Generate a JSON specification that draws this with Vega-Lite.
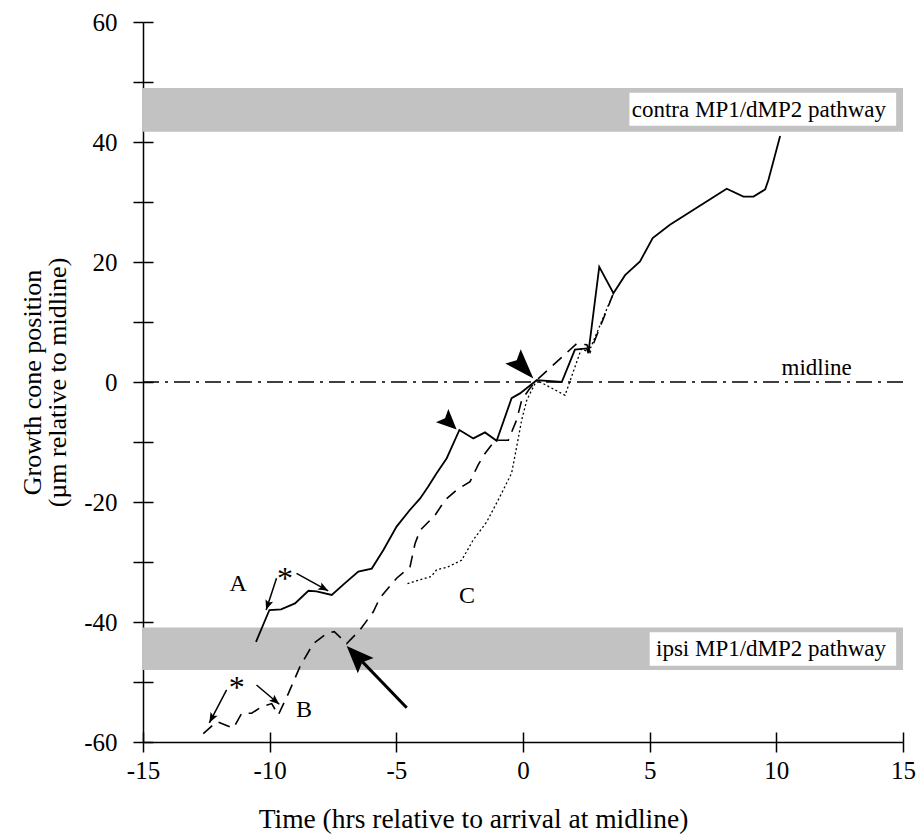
{
  "$schema": "https://vega.github.io/schema/vega-lite/v6.json",
  "width": 760,
  "height": 720,
  "autosize": {"type": "none"},
  "padding": {"left": 143, "top": 22, "right": 14, "bottom": 93},
  "background": "white",
  "config": {
    "view": {"stroke": null},
    "font": "Liberation Serif",
    "axis": {"labelFont": "Liberation Serif", "titleFont": "Liberation Serif", "labelColor": "black", "titleColor": "black", "domainColor": "black", "tickColor": "black", "titleFontWeight": "normal", "grid": false}
  },
  "datasets": {
    "bands": [
      {"name": "contra", "x1": -15, "x2": 15, "y1": 41.7, "y2": 49},
      {"name": "ipsi", "x1": -15, "x2": 15, "y1": -48, "y2": -40.9}
    ],
    "boxes": [
      {"name": "contra", "x1": 4.2, "x2": 14.73, "y1": 42.7, "y2": 48.2},
      {"name": "ipsi", "x1": 5.0, "x2": 14.73, "y1": -47.3, "y2": -41.7}
    ],
    "traces": [
      {"s": "A", "o": 1, "t": -10.54, "p": -43.3},
      {"s": "A", "o": 2, "t": -10.01, "p": -38},
      {"s": "A", "o": 3, "t": -9.55, "p": -37.9},
      {"s": "A", "o": 4, "t": -9.0, "p": -36.9},
      {"s": "A", "o": 5, "t": -8.47, "p": -34.8},
      {"s": "A", "o": 6, "t": -8.15, "p": -34.9},
      {"s": "A", "o": 7, "t": -7.55, "p": -35.5},
      {"s": "A", "o": 8, "t": -7.05, "p": -33.6},
      {"s": "A", "o": 9, "t": -6.5, "p": -31.6},
      {"s": "A", "o": 10, "t": -5.97, "p": -31.1},
      {"s": "A", "o": 11, "t": -5.51, "p": -28},
      {"s": "A", "o": 12, "t": -4.99, "p": -24.1},
      {"s": "A", "o": 13, "t": -4.46, "p": -21.3},
      {"s": "A", "o": 14, "t": -4.06, "p": -19.4},
      {"s": "A", "o": 15, "t": -3.74, "p": -17.4},
      {"s": "A", "o": 16, "t": -3.41, "p": -15.2},
      {"s": "A", "o": 17, "t": -3.01, "p": -12.7},
      {"s": "A", "o": 18, "t": -2.51, "p": -8},
      {"s": "A", "o": 19, "t": -1.96, "p": -9.4},
      {"s": "A", "o": 20, "t": -1.5, "p": -8.4},
      {"s": "A", "o": 21, "t": -1.04, "p": -9.8},
      {"s": "A", "o": 22, "t": -0.45, "p": -2.7},
      {"s": "A", "o": 23, "t": -0.12, "p": -1.9},
      {"s": "A", "o": 24, "t": 0.54, "p": 0.3},
      {"s": "A", "o": 25, "t": 1.53, "p": 0},
      {"s": "A", "o": 26, "t": 2.05, "p": 5.4},
      {"s": "A", "o": 27, "t": 2.52, "p": 5.6},
      {"s": "A", "o": 28, "t": 2.58, "p": 4.8},
      {"s": "A", "o": 29, "t": 3.01, "p": 19.2},
      {"s": "A", "o": 30, "t": 3.57, "p": 14.8},
      {"s": "A", "o": 31, "t": 4.03, "p": 17.8},
      {"s": "A", "o": 32, "t": 4.62, "p": 20.1},
      {"s": "A", "o": 33, "t": 5.12, "p": 24},
      {"s": "A", "o": 34, "t": 5.8, "p": 26.2},
      {"s": "A", "o": 35, "t": 8.04, "p": 32.2},
      {"s": "A", "o": 36, "t": 8.7, "p": 30.9},
      {"s": "A", "o": 37, "t": 9.1, "p": 30.9},
      {"s": "A", "o": 38, "t": 9.56, "p": 32.1},
      {"s": "A", "o": 39, "t": 9.69, "p": 33.7},
      {"s": "A", "o": 40, "t": 10.15, "p": 41},
      {"s": "B", "o": 1, "t": -12.62, "p": -58.6},
      {"s": "B", "o": 2, "t": -12.09, "p": -56.6},
      {"s": "B", "o": 3, "t": -11.43, "p": -57.7},
      {"s": "B", "o": 4, "t": -11.1, "p": -55.2},
      {"s": "B", "o": 5, "t": -10.71, "p": -55.2},
      {"s": "B", "o": 6, "t": -10.31, "p": -54.1},
      {"s": "B", "o": 7, "t": -9.92, "p": -53.6},
      {"s": "B", "o": 8, "t": -9.66, "p": -55.5},
      {"s": "B", "o": 9, "t": -9.26, "p": -51.9},
      {"s": "B", "o": 10, "t": -8.8, "p": -47.4},
      {"s": "B", "o": 11, "t": -8.28, "p": -43.6},
      {"s": "B", "o": 12, "t": -7.75, "p": -41.9},
      {"s": "B", "o": 13, "t": -7.45, "p": -41.6},
      {"s": "B", "o": 14, "t": -6.96, "p": -43.6},
      {"s": "B", "o": 15, "t": -6.43, "p": -41.3},
      {"s": "B", "o": 16, "t": -5.91, "p": -38.3},
      {"s": "B", "o": 17, "t": -5.65, "p": -36},
      {"s": "B", "o": 18, "t": -4.99, "p": -32.7},
      {"s": "B", "o": 19, "t": -4.46, "p": -30.8},
      {"s": "B", "o": 20, "t": -4.26, "p": -26.9},
      {"s": "B", "o": 21, "t": -4.06, "p": -24.7},
      {"s": "B", "o": 22, "t": -3.47, "p": -22.2},
      {"s": "B", "o": 23, "t": -3.08, "p": -19.7},
      {"s": "B", "o": 24, "t": -2.62, "p": -18},
      {"s": "B", "o": 25, "t": -2.09, "p": -16.6},
      {"s": "B", "o": 26, "t": -1.77, "p": -13.8},
      {"s": "B", "o": 27, "t": -1.5, "p": -11.9},
      {"s": "B", "o": 28, "t": -1.1, "p": -9.7},
      {"s": "B", "o": 29, "t": -0.58, "p": -9.7},
      {"s": "B", "o": 30, "t": -0.25, "p": -6.3},
      {"s": "B", "o": 31, "t": -0.05, "p": -3},
      {"s": "B", "o": 32, "t": 0.28, "p": -1},
      {"s": "B", "o": 33, "t": 0.54, "p": 0.3},
      {"s": "B", "o": 34, "t": 2.12, "p": 6.4},
      {"s": "B", "o": 35, "t": 2.52, "p": 6.2},
      {"s": "B", "o": 36, "t": 2.65, "p": 5.0},
      {"s": "B", "o": 37, "t": 3.57, "p": 14.8},
      {"s": "C", "o": 1, "t": -4.56, "p": -33.6},
      {"s": "C", "o": 2, "t": -3.62, "p": -32.4},
      {"s": "C", "o": 3, "t": -3.41, "p": -31.3},
      {"s": "C", "o": 4, "t": -3.01, "p": -30.9},
      {"s": "C", "o": 5, "t": -2.42, "p": -29.7},
      {"s": "C", "o": 6, "t": -1.96, "p": -26.3},
      {"s": "C", "o": 7, "t": -1.43, "p": -23.3},
      {"s": "C", "o": 8, "t": -0.91, "p": -19.1},
      {"s": "C", "o": 9, "t": -0.45, "p": -15.2},
      {"s": "C", "o": 10, "t": -0.25, "p": -10.8},
      {"s": "C", "o": 11, "t": -0.05, "p": -6.3},
      {"s": "C", "o": 12, "t": 0.15, "p": -3},
      {"s": "C", "o": 13, "t": 0.48, "p": -0.2},
      {"s": "C", "o": 14, "t": 0.54, "p": 0.3},
      {"s": "C", "o": 15, "t": 1.66, "p": -2.2},
      {"s": "C", "o": 16, "t": 2.3, "p": 5.5},
      {"s": "C", "o": 17, "t": 2.6, "p": 5.0},
      {"s": "C", "o": 18, "t": 3.57, "p": 14.8}
    ],
    "arrows": [
      {"id": "a1", "o": 1, "t": -9.73, "p": -32.7},
      {"id": "a1", "o": 2, "t": -10.14, "p": -38},
      {"id": "a2", "o": 1, "t": -8.94, "p": -31.9},
      {"id": "a2", "o": 2, "t": -7.69, "p": -34.8},
      {"id": "a3", "o": 1, "t": -11.7, "p": -51.3},
      {"id": "a3", "o": 2, "t": -12.38, "p": -56.8},
      {"id": "a4", "o": 1, "t": -10.52, "p": -50.5},
      {"id": "a4", "o": 2, "t": -9.62, "p": -53.7}
    ],
    "bigshaft": [
      {"id": "big", "o": 1, "t": -6.8, "p": -44.6},
      {"id": "big", "o": 2, "t": -4.59, "p": -54.3}
    ],
    "heads": [
      {"id": "a1", "t": -10.14, "p": -38},
      {"id": "a2", "t": -7.69, "p": -34.8},
      {"id": "a3", "t": -12.38, "p": -56.8},
      {"id": "a4", "t": -9.62, "p": -53.7},
      {"id": "peak", "t": -2.62, "p": -7.9},
      {"id": "cross", "t": 0.41, "p": 0.6},
      {"id": "big", "t": -6.96, "p": -44}
    ],
    "notes": [
      {"label": "contra MP1/dMP2 pathway", "t": 14.33, "p": 44.2},
      {"label": "ipsi MP1/dMP2 pathway", "t": 14.33, "p": -45.7},
      {"label": "midline", "t": 12.98, "p": 1.17}
    ],
    "letters": [
      {"label": "A", "t": -11.24, "p": -33.6},
      {"label": "B", "t": -8.64, "p": -54.7},
      {"label": "C", "t": -2.21, "p": -35.7}
    ],
    "stars": [
      {"label": "*", "t": -9.39, "p": -31.6},
      {"label": "*", "t": -11.3, "p": -49.9}
    ]
  },
  "resolve": {"axis": {"x": "independent", "y": "independent"}},
  "layer": [
    {
      "data": {"name": "bands"},
      "mark": {"type": "rect", "fill": "#c2c2c2"},
      "encoding": {
        "x": {"field": "x1", "type": "quantitative", "scale": {"domain": [-15, 15], "nice": false, "zero": false},
          "axis": {"orient": "bottom", "values": [-15, -10, -5, 0, 5, 10, 15], "labelExpr": "toString(datum.value)", "tickSize": 10, "domain": true, "domainWidth": 1.5, "tickWidth": 1.5, "labelFont": "Liberation Serif", "labelFontSize": 25, "labelBaseline": "alphabetic", "labelPadding": 26, "labelFlush": false,
            "title": "Time (hrs relative to arrival at midline)", "titleFont": "Liberation Serif", "titleFontSize": 27.5, "titleX": 330, "titleY": 85, "titleBaseline": "alphabetic", "titleAnchor": null}},
        "x2": {"field": "x2"},
        "y": {"field": "y1", "type": "quantitative", "scale": {"domain": [-60, 60], "nice": false, "zero": false},
          "axis": {"orient": "left", "values": [-60, -50, -40, -30, -20, -10, 0, 10, 20, 30, 40, 50, 60], "labelExpr": "datum.value % 20 === 0 ? toString(datum.value) : ''", "tickSize": 10, "domain": true, "domainWidth": 1.5, "tickWidth": 1.5, "labelFont": "Liberation Serif", "labelFontSize": 25, "labelPadding": 16, "labelFlush": false,
            "title": ["Growth cone position", "(µm relative to midline)"], "titleFont": "Liberation Serif", "titleFontSize": 26, "titleLineHeight": 25, "titleX": -111, "titleY": 360, "titleBaseline": "middle", "titleAngle": -90, "titleAlign": "center"}},
        "y2": {"field": "y2"}
      }
    },
    {
      "data": {"name": "boxes"},
      "mark": {"type": "rect", "fill": "white"},
      "encoding": {
        "x": {"field": "x1", "type": "quantitative",
          "axis": {"orient": "bottom", "values": [-15, -10, -5, 0, 5, 10, 15], "tickSize": 10, "offset": -10, "domain": false, "labels": false, "title": null, "tickWidth": 1.5}},
        "x2": {"field": "x2"},
        "y": {"field": "y1", "type": "quantitative",
          "axis": {"orient": "left", "values": [-60, -50, -40, -30, -20, -10, 0, 10, 20, 30, 40, 50, 60], "tickSize": 10, "offset": -10, "domain": false, "labels": false, "title": null, "tickWidth": 1.5}},
        "y2": {"field": "y2"}
      }
    },
    {
      "data": {"values": [{"p": 0}]},
      "mark": {"type": "rule", "stroke": "black", "strokeWidth": 1.5, "strokeDash": [16, 6, 3, 6]},
      "encoding": {"y": {"field": "p", "type": "quantitative", "axis": null}}
    },
    {
      "data": {"name": "traces"},
      "transform": [{"filter": "datum.s === 'C'"}],
      "mark": {"type": "line", "stroke": "black", "strokeWidth": 1.3, "strokeDash": [2, 2.5]},
      "encoding": {
        "x": {"field": "t", "type": "quantitative", "axis": null},
        "y": {"field": "p", "type": "quantitative", "axis": null},
        "order": {"field": "o", "type": "quantitative"}
      }
    },
    {
      "data": {"name": "traces"},
      "transform": [{"filter": "datum.s === 'B'"}],
      "mark": {"type": "line", "stroke": "black", "strokeWidth": 1.6, "strokeDash": [12, 8]},
      "encoding": {
        "x": {"field": "t", "type": "quantitative", "axis": null},
        "y": {"field": "p", "type": "quantitative", "axis": null},
        "order": {"field": "o", "type": "quantitative"}
      }
    },
    {
      "data": {"name": "traces"},
      "transform": [{"filter": "datum.s === 'A'"}],
      "mark": {"type": "line", "stroke": "black", "strokeWidth": 1.8},
      "encoding": {
        "x": {"field": "t", "type": "quantitative", "axis": null},
        "y": {"field": "p", "type": "quantitative", "axis": null},
        "order": {"field": "o", "type": "quantitative"}
      }
    },
    {
      "data": {"name": "arrows"},
      "mark": {"type": "line", "stroke": "black", "strokeWidth": 1.5},
      "encoding": {
        "x": {"field": "t", "type": "quantitative", "axis": null},
        "y": {"field": "p", "type": "quantitative", "axis": null},
        "detail": {"field": "id"},
        "order": {"field": "o", "type": "quantitative"}
      }
    },
    {
      "data": {"name": "bigshaft"},
      "mark": {"type": "line", "stroke": "black", "strokeWidth": 3},
      "encoding": {
        "x": {"field": "t", "type": "quantitative", "axis": null},
        "y": {"field": "p", "type": "quantitative", "axis": null},
        "order": {"field": "o", "type": "quantitative"}
      }
    },
    {
      "data": {"name": "heads"},
      "transform": [{"filter": "datum.id === 'a1'"}],
      "mark": {"type": "point", "filled": true, "color": "black", "opacity": 1, "shape": "M0,0L0.4,1L0,0.8L-0.4,1Z", "size": 400, "angle": 198.6},
      "encoding": {"x": {"field": "t", "type": "quantitative", "axis": null}, "y": {"field": "p", "type": "quantitative", "axis": null}}
    },
    {
      "data": {"name": "heads"},
      "transform": [{"filter": "datum.id === 'a2'"}],
      "mark": {"type": "point", "filled": true, "color": "black", "opacity": 1, "shape": "M0,0L0.4,1L0,0.8L-0.4,1Z", "size": 400, "angle": 118.8},
      "encoding": {"x": {"field": "t", "type": "quantitative", "axis": null}, "y": {"field": "p", "type": "quantitative", "axis": null}}
    },
    {
      "data": {"name": "heads"},
      "transform": [{"filter": "datum.id === 'a3'"}],
      "mark": {"type": "point", "filled": true, "color": "black", "opacity": 1, "shape": "M0,0L0.4,1L0,0.8L-0.4,1Z", "size": 400, "angle": 208},
      "encoding": {"x": {"field": "t", "type": "quantitative", "axis": null}, "y": {"field": "p", "type": "quantitative", "axis": null}}
    },
    {
      "data": {"name": "heads"},
      "transform": [{"filter": "datum.id === 'a4'"}],
      "mark": {"type": "point", "filled": true, "color": "black", "opacity": 1, "shape": "M0,0L0.4,1L0,0.8L-0.4,1Z", "size": 400, "angle": 130.1},
      "encoding": {"x": {"field": "t", "type": "quantitative", "axis": null}, "y": {"field": "p", "type": "quantitative", "axis": null}}
    },
    {
      "data": {"name": "heads"},
      "transform": [{"filter": "datum.id === 'peak'"}],
      "mark": {"type": "point", "filled": true, "color": "black", "opacity": 1, "shape": "M0,0L0.45,1L0,0.8L-0.45,1Z", "size": 1600, "angle": 133.6},
      "encoding": {"x": {"field": "t", "type": "quantitative", "axis": null}, "y": {"field": "p", "type": "quantitative", "axis": null}}
    },
    {
      "data": {"name": "heads"},
      "transform": [{"filter": "datum.id === 'cross'"}],
      "mark": {"type": "point", "filled": true, "color": "black", "opacity": 1, "shape": "M0,0L0.35,1L0,0.82L-0.35,1Z", "size": 3600, "angle": 137.2},
      "encoding": {"x": {"field": "t", "type": "quantitative", "axis": null}, "y": {"field": "p", "type": "quantitative", "axis": null}}
    },
    {
      "data": {"name": "heads"},
      "transform": [{"filter": "datum.id === 'big'"}],
      "mark": {"type": "point", "filled": true, "color": "black", "opacity": 1, "shape": "M0,0L0.4,1L0,0.82L-0.4,1Z", "size": 3000, "angle": 316},
      "encoding": {"x": {"field": "t", "type": "quantitative", "axis": null}, "y": {"field": "p", "type": "quantitative", "axis": null}}
    },
    {
      "data": {"name": "notes"},
      "mark": {"type": "text", "font": "Liberation Serif", "fontSize": 23, "align": "right", "baseline": "alphabetic", "color": "black"},
      "encoding": {"x": {"field": "t", "type": "quantitative", "axis": null}, "y": {"field": "p", "type": "quantitative", "axis": null}, "text": {"field": "label"}}
    },
    {
      "data": {"name": "letters"},
      "mark": {"type": "text", "font": "Liberation Serif", "fontSize": 24, "align": "center", "baseline": "middle", "color": "black"},
      "encoding": {"x": {"field": "t", "type": "quantitative", "axis": null}, "y": {"field": "p", "type": "quantitative", "axis": null}, "text": {"field": "label"}}
    },
    {
      "data": {"name": "stars"},
      "mark": {"type": "text", "font": "Liberation Serif", "fontSize": 32, "align": "center", "baseline": "middle", "dy": 7, "color": "black"},
      "encoding": {"x": {"field": "t", "type": "quantitative", "axis": null}, "y": {"field": "p", "type": "quantitative", "axis": null}, "text": {"field": "label"}}
    }
  ]
}
